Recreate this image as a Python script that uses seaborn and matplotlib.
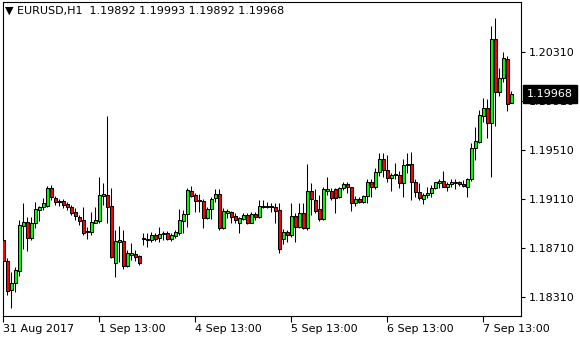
import numpy as np
import matplotlib
matplotlib.use("Agg")
import matplotlib.pyplot as plt
import matplotlib.transforms as mtransforms
import seaborn as sns

sns.set_theme(style="white")
plt.rcParams['font.family'] = ['DejaVu Sans']

symbol = "EURUSD,H1"

opens = [1.18778, 1.18607, 1.18370, 1.18427, 1.18526, 1.18892, 1.18924, 1.18794, 1.18916, 1.19022,
         1.19047, 1.19055, 1.19201, 1.19120, 1.19088, 1.19096, 1.19071, 1.19047, 1.19006, 1.18965,
         1.18941, 1.18851, 1.18843, 1.18916, 1.18932, 1.19136, 1.19144, 1.19055, 1.18591, 1.18761,
         1.18770, 1.18566, 1.18656, 1.18664, 1.18648, 1.18786, 1.18778, 1.18778, 1.18819, 1.18794,
         1.18827, 1.18835, 1.18786, 1.18810, 1.18835, 1.18932, 1.18990, 1.19177, 1.19144, 1.19104,
         1.19096, 1.18957, 1.19030, 1.19120, 1.19153, 1.18876, 1.18998, 1.19006, 1.18973, 1.18916,
         1.18949, 1.18981, 1.18916, 1.18990, 1.18965, 1.19047, 1.19047, 1.19055, 1.19047, 1.19022,
         1.18786, 1.18843, 1.18819, 1.18973, 1.18884, 1.18998, 1.18876, 1.19177, 1.19104, 1.19030,
         1.18949, 1.19177, 1.19177, 1.19193, 1.19128, 1.19201, 1.19234, 1.19210, 1.19079, 1.19112,
         1.19088, 1.19136, 1.19251, 1.19210, 1.19332, 1.19438, 1.19348, 1.19283, 1.19308, 1.19308,
         1.19242, 1.19389, 1.19397, 1.19251, 1.19169, 1.19112, 1.19144, 1.19161, 1.19201, 1.19242,
         1.19259, 1.19210, 1.19234, 1.19242, 1.19251, 1.19234, 1.19210, 1.19275, 1.19528, 1.19577,
         1.19789, 1.19854, 1.19732, 1.20416, 1.19984, 1.20098, 1.20253, 1.19892]

highs = [1.18794, 1.18631, 1.18517, 1.18558, 1.18941, 1.19079, 1.18965, 1.18965, 1.19088, 1.19055,
         1.19120, 1.19218, 1.19226, 1.19136, 1.19112, 1.19112, 1.19088, 1.19063, 1.19038, 1.18981,
         1.19047, 1.18884, 1.19006, 1.19047, 1.19291, 1.19242, 1.19789, 1.19201, 1.18859, 1.18892,
         1.18859, 1.18696, 1.18753, 1.18696, 1.18656, 1.18835, 1.18835, 1.18843, 1.18835, 1.18884,
         1.18851, 1.18851, 1.18835, 1.18859, 1.19030, 1.19022, 1.19201, 1.19218, 1.19161, 1.19153,
         1.19112, 1.19047, 1.19128, 1.19193, 1.19193, 1.19038, 1.19030, 1.19014, 1.18998, 1.18965,
         1.18998, 1.18998, 1.19006, 1.19006, 1.19104, 1.19104, 1.19088, 1.19079, 1.19079, 1.19079,
         1.18867, 1.18859, 1.19079, 1.18998, 1.19079, 1.19079, 1.19397, 1.19242, 1.19193, 1.19144,
         1.19210, 1.19291, 1.19201, 1.19201, 1.19210, 1.19251, 1.19251, 1.19210, 1.19136, 1.19128,
         1.19144, 1.19275, 1.19275, 1.19365, 1.19487, 1.19487, 1.19471, 1.19324, 1.19405, 1.19340,
         1.19438, 1.19487, 1.19495, 1.19275, 1.19242, 1.19161, 1.19210, 1.19226, 1.19251, 1.19275,
         1.19340, 1.19251, 1.19275, 1.19275, 1.19259, 1.19267, 1.19283, 1.19568, 1.19699, 1.19837,
         1.19935, 1.19927, 1.20522, 1.20587, 1.20180, 1.20310, 1.20277, 1.19993]

lows = [1.18427, 1.18330, 1.18224, 1.18354, 1.18485, 1.18705, 1.18688, 1.18778, 1.18876, 1.18932,
        1.19022, 1.19047, 1.19104, 1.19063, 1.19055, 1.19038, 1.19022, 1.18981, 1.18941, 1.18900,
        1.18819, 1.18786, 1.18819, 1.18916, 1.18916, 1.19063, 1.18916, 1.18631, 1.18477, 1.18599,
        1.18542, 1.18558, 1.18615, 1.18607, 1.18574, 1.18737, 1.18721, 1.18761, 1.18770, 1.18761,
        1.18778, 1.18778, 1.18770, 1.18794, 1.18819, 1.18835, 1.18884, 1.19128, 1.19006, 1.19006,
        1.18876, 1.18949, 1.18949, 1.19088, 1.18859, 1.18867, 1.18957, 1.18916, 1.18916, 1.18835,
        1.18941, 1.18908, 1.18916, 1.18941, 1.18957, 1.19038, 1.19038, 1.19006, 1.18916, 1.18672,
        1.18745, 1.18761, 1.18802, 1.18761, 1.18876, 1.18867, 1.18859, 1.18981, 1.18998, 1.18932,
        1.18941, 1.19144, 1.19104, 1.18998, 1.19120, 1.19185, 1.19161, 1.19014, 1.19055, 1.19079,
        1.19079, 1.19079, 1.19128, 1.19193, 1.19300, 1.19291, 1.19251, 1.19177, 1.19275, 1.19201,
        1.19128, 1.19324, 1.19104, 1.19128, 1.19104, 1.19071, 1.19120, 1.19128, 1.19193, 1.19201,
        1.19210, 1.19177, 1.19210, 1.19193, 1.19218, 1.19210, 1.19128, 1.19259, 1.19430, 1.19568,
        1.19740, 1.19609, 1.19291, 1.19707, 1.19951, 1.20066, 1.19829, 1.19892]

closes = [1.18607, 1.18362, 1.18427, 1.18534, 1.18900, 1.18924, 1.18794, 1.18916, 1.19030, 1.19047,
          1.19079, 1.19201, 1.19128, 1.19088, 1.19096, 1.19063, 1.19047, 1.18998, 1.18973, 1.18932,
          1.18835, 1.18843, 1.18924, 1.18941, 1.19144, 1.19153, 1.19047, 1.18639, 1.18770, 1.18778,
          1.18566, 1.18672, 1.18672, 1.18639, 1.18591, 1.18794, 1.18786, 1.18819, 1.18786, 1.18827,
          1.18835, 1.18786, 1.18819, 1.18843, 1.18941, 1.18990, 1.19185, 1.19136, 1.19096, 1.19096,
          1.18957, 1.19030, 1.19112, 1.19153, 1.18876, 1.19014, 1.19014, 1.18965, 1.18941, 1.18957,
          1.18981, 1.18916, 1.18990, 1.18965, 1.19055, 1.19055, 1.19055, 1.19047, 1.19014, 1.18705,
          1.18843, 1.18819, 1.18973, 1.18884, 1.18998, 1.18876, 1.19177, 1.19112, 1.19014, 1.18949,
          1.19193, 1.19193, 1.19120, 1.19120, 1.19201, 1.19234, 1.19210, 1.19079, 1.19112, 1.19088,
          1.19136, 1.19251, 1.19210, 1.19332, 1.19438, 1.19348, 1.19283, 1.19308, 1.19316, 1.19242,
          1.19389, 1.19397, 1.19251, 1.19169, 1.19120, 1.19144, 1.19161, 1.19201, 1.19251, 1.19259,
          1.19210, 1.19234, 1.19251, 1.19251, 1.19234, 1.19218, 1.19275, 1.19528, 1.19585, 1.19797,
          1.19854, 1.19732, 1.20416, 1.19984, 1.20098, 1.20261, 1.19886, 1.19968]

tick_pos = [0, 24, 48, 72, 96, 120]
tick_labels = ["31 Aug 2017", "1 Sep 13:00", "4 Sep 13:00", "5 Sep 13:00", "6 Sep 13:00", "7 Sep 13:00"]
y_ticks = [1.18310, 1.18710, 1.19110, 1.19510, 1.19910, 1.20310]

fig = plt.figure(figsize=(5.8, 3.4), dpi=100)
fig.patch.set_facecolor('white')
ax = fig.add_axes([0.005, 0.071, 0.893, 0.924])
ax.set_facecolor('white')

o = np.array(opens)
h = np.array(highs)
l = np.array(lows)
c = np.array(closes)
x = np.arange(len(o))
up = c >= o

ax.vlines(x, l, h, color='black', linewidth=0.75, zorder=2)
ax.bar(x[up], (c - o)[up], bottom=o[up], width=0.72, color='#00ff00',
       edgecolor='black', linewidth=0.75, zorder=3)
ax.bar(x[~up], (o - c)[~up], bottom=c[~up], width=0.72, color='#ff0000',
       edgecolor='black', linewidth=0.75, zorder=3)

ax.set_xlim(-0.1, 129.4)
ax.set_ylim(1.18158, 1.20720)

for s in ax.spines.values():
    s.set_color('black')
    s.set_linewidth(0.8)
    s.set_visible(True)

ax.yaxis.tick_right()
ax.set_yticks(y_ticks)
ax.set_yticklabels([f"{v:.5f}" for v in y_ticks])
ax.tick_params(axis='y', which='both', direction='out', length=3, width=0.8, color='black',
               labelsize=8, pad=3, left=False, labelleft=False, right=True, labelright=True,
               labelcolor='black')
ax.set_xticks(tick_pos)
ax.set_xticklabels(tick_labels, ha='left')
ax.tick_params(axis='x', which='both', direction='out', length=4, width=0.8, color='black',
               labelsize=8, pad=2, bottom=True, labelbottom=True, labelcolor='black')
ax.grid(False)

last = closes[-1]
ax.annotate(f"{last:.5f}", xy=(1.0, last),
            xycoords=mtransforms.blended_transform_factory(ax.transAxes, ax.transData),
            xytext=(4.5, 0), textcoords='offset points', ha='left', va='center',
            fontsize=8, color='white', zorder=10, annotation_clip=False,
            bbox=dict(boxstyle='square,pad=0.35', fc='black', ec='black'))

title = f"\u25bc {symbol}  {opens[-1]:.5f} {highs[-1]:.5f} {lows[-1]:.5f} {closes[-1]:.5f}"
ax.text(0.004, 0.988, title, transform=ax.transAxes, ha='left', va='top',
        fontsize=8, color='black', zorder=10)

fig.savefig("out.png", dpi=100, facecolor='white')
